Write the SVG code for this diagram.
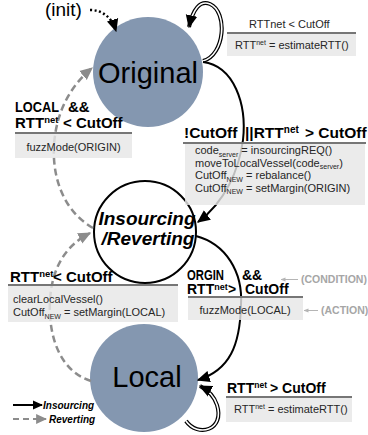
<svg xmlns="http://www.w3.org/2000/svg" width="368" height="435" viewBox="0 0 368 435">
<defs>
<style>
.st{fill:#8497B0}
.ins{fill:#fff;stroke:#000;stroke-width:2}
.big{font-family:"Liberation Sans",Arial,sans-serif;font-size:29px;fill:#000;text-anchor:middle}
.bi{font-family:"Liberation Sans",Arial,sans-serif;font-size:19px;font-weight:bold;font-style:italic;fill:#000;text-anchor:middle}
.lbl{font-family:"Liberation Sans",Arial,sans-serif;font-weight:bold;fill:#000}
.box{fill:#e7e7e7;fill-opacity:0.82}
.ul{stroke:#767676;stroke-width:2}
.bt{font-family:"Liberation Sans",Arial,sans-serif;font-size:11px;fill:#262626}
.note{font-family:"Liberation Sans",Arial,sans-serif;font-size:10.5px;font-weight:bold;fill:#a6a6a6}
.solid{fill:none;stroke:#000;stroke-width:2}
.dash{fill:none;stroke:#8c8c8c;stroke-width:2.5;stroke-dasharray:7 4}
.dot{fill:none;stroke:#000;stroke-width:2.5;stroke-dasharray:2 2.5}
.dblo{fill:none;stroke:#000;stroke-width:4}
.dbli{fill:none;stroke:#fff;stroke-width:1.6}
.mk{fill:none;stroke:none}
.thin{fill:none;stroke:#b5b5b5;stroke-width:1}
.leg{font-family:"Liberation Sans",Arial,sans-serif;font-size:10px;font-weight:bold;font-style:italic;fill:#000}
</style>
<marker id="ah" viewBox="0 0 10 10" refX="9" refY="5" markerWidth="13" markerHeight="13" markerUnits="userSpaceOnUse" orient="auto"><path d="M0,0.5 L10,5 L0,9.5 z" fill="#000"/></marker>
<marker id="ahs" viewBox="0 0 10 10" refX="9" refY="5" markerWidth="10" markerHeight="10" markerUnits="userSpaceOnUse" orient="auto"><path d="M0,0.5 L10,5 L0,9.5 z" fill="#000"/></marker>
<marker id="ahg" viewBox="0 0 10 10" refX="9" refY="5" markerWidth="13" markerHeight="13" markerUnits="userSpaceOnUse" orient="auto"><path d="M0,0.5 L10,5 L0,9.5 z" fill="#8c8c8c"/></marker>
<marker id="ahgs" viewBox="0 0 10 10" refX="9" refY="5" markerWidth="11" markerHeight="11" markerUnits="userSpaceOnUse" orient="auto"><path d="M0,0.5 L10,5 L0,9.5 z" fill="#8c8c8c"/></marker>
<marker id="ahl" viewBox="0 0 10 10" refX="9" refY="5" markerWidth="5" markerHeight="5" markerUnits="userSpaceOnUse" orient="auto"><path d="M0,1 L10,5 L0,9 z" fill="#b5b5b5"/></marker>
</defs>

<g id="node-original">
<circle class="st" cx="148" cy="72" r="55"/>
<text class="big" x="148" y="83">Original</text>
</g>
<g id="node-insourcing">
<circle class="ins" cx="145" cy="232" r="51"/>
<text class="bi" x="147" y="225">Insourcing</text>
<text class="bi" x="148" y="245">/Reverting</text>
</g>
<g id="node-local">
<circle class="st" cx="144" cy="378" r="54"/>
<text class="big" x="147" y="387">Local</text>
</g>
<g id="init">
<text x="45" y="16" style="font-family:'Liberation Sans',Arial,sans-serif;font-size:19px;fill:#000">(init)</text>
</g>

<g id="connectors">
<path class="dot" d="M90,10 C103,10 112,18 116,31" marker-end="url(#ah)"/>
<path class="dblo" d="M203,61 C225,55 228,12 210,4 C200,0 193,9 189,27"/>
<path class="dbli" d="M203,61 C225,55 228,12 210,4 C200,0 193,9 189,27"/>
<path class="mk" d="M203,61 C225,55 228,12 210,4 C200,0 193,9 189,27" marker-end="url(#ah)"/>
<path class="solid" d="M203,62 C234,66 247,104 243,140 C239,170 225,202 198,222" marker-end="url(#ah)"/>
<path class="solid" d="M196,236 C226,244 243,272 241,305 C240,345 230,370 198,380" marker-end="url(#ah)"/>
<path class="dblo" d="M186,421 C198,438 225,430 217,405 C214,396 208,390 200,386"/>
<path class="dbli" d="M186,421 C198,438 225,430 217,405 C214,396 208,390 200,386"/>
<path class="mk" d="M186,421 C198,438 225,430 217,405 C214,396 208,390 200,386" marker-end="url(#ah)"/>
<path class="dash" d="M93,228 C65,212 52,180 54,145 C56,115 68,88 92,68" marker-end="url(#ahg)"/>
<path class="dash" d="M91,381 C62,372 48,340 50,300 C52,268 65,246 90,233" marker-end="url(#ahg)"/>
</g>

<g id="guard-original-self">
<text class="bt" x="249" y="28">RTTnet  &lt; CutOff</text>
<line class="ul" x1="227" y1="33" x2="356" y2="33"/>
<rect class="box" x="227" y="34" width="129" height="22"/>
<text class="bt" x="235" y="49">RTT<tspan font-size="7" dy="-4">net</tspan><tspan dy="4"> = estimateRTT()</tspan></text>
</g>

<g id="guard-original-insourcing">
<text class="lbl" style="font-size:15.5px" y="138"><tspan x="184">!CutOff</tspan><tspan x="245">||RTT</tspan><tspan font-size="10" dy="-5">net</tspan><tspan x="305" dy="5">&gt; CutOff</tspan></text>
<line class="ul" x1="183" y1="143" x2="366" y2="143"/>
<rect class="box" x="185" y="144" width="180" height="61"/>
<text class="bt" x="195" y="154">code<tspan font-size="7" dy="2.5">server</tspan><tspan dy="-2.5"> = insourcingREQ()</tspan></text>
<text class="bt" x="195" y="166.5">moveToLocalVessel(code<tspan font-size="7" dy="2.5">server</tspan><tspan dy="-2.5">)</tspan></text>
<text class="bt" x="195" y="179">CutOff<tspan font-size="7" dy="2.5">NEW</tspan><tspan dy="-2.5"> = rebalance()</tspan></text>
<text class="bt" x="195" y="191.5">CutOff<tspan font-size="7" dy="2.5">NEW</tspan><tspan dy="-2.5"> = setMargin(ORIGIN)</tspan></text>
</g>

<g id="guard-reverting-original">
<text class="lbl" style="font-size:15px" y="112"><tspan x="15" textLength="44" lengthAdjust="spacingAndGlyphs">LOCAL</tspan><tspan x="68">&amp;&amp;</tspan></text>
<text class="lbl" style="font-size:15px" y="128"><tspan x="15">RTT</tspan><tspan font-size="9.5" dy="-5">net</tspan><tspan x="63" dy="5">&lt; CutOff</tspan></text>
<line class="ul" x1="15" y1="133" x2="132" y2="133"/>
<rect class="box" x="15" y="134" width="117" height="24"/>
<text class="bt" x="73.5" y="151" text-anchor="middle">fuzzMode(ORIGIN)</text>
</g>

<g id="guard-insourcing-local">
<text class="lbl" style="font-size:14px" y="280"><tspan x="187" textLength="37" lengthAdjust="spacingAndGlyphs">ORGIN</tspan><tspan x="242">&amp;&amp;</tspan></text>
<text class="lbl" style="font-size:14px" y="294"><tspan x="187">RTT</tspan><tspan font-size="9" dy="-4">net</tspan><tspan x="228" dy="4">&gt;</tspan><tspan x="245">CutOff</tspan></text>
<line class="ul" x1="188" y1="297" x2="303" y2="297"/>
<rect class="box" x="188" y="298" width="115" height="22"/>
<text class="bt" x="245" y="314" text-anchor="middle">fuzzMode(LOCAL)</text>
<line class="thin" x1="298" y1="279.5" x2="281" y2="279.5" marker-end="url(#ahl)"/>
<text class="note" x="301" y="283">(CONDITION)</text>
<line class="thin" x1="318" y1="310.5" x2="304" y2="310.5" marker-end="url(#ahl)"/>
<text class="note" x="321" y="314">(ACTION)</text>
</g>

<g id="guard-local-reverting">
<text class="lbl" style="font-size:15px" y="282"><tspan x="10">RTT</tspan><tspan font-size="9.5" dy="-5">net</tspan><tspan x="53" dy="5">&lt; CutOff</tspan></text>
<line class="ul" x1="8" y1="285" x2="178" y2="285"/>
<rect class="box" x="8" y="286" width="170" height="36"/>
<text class="bt" x="13" y="303">clearLocalVessel()</text>
<text class="bt" x="13" y="316">CutOff<tspan font-size="7" dy="2.5">NEW</tspan><tspan dy="-2.5"> = setMargin(LOCAL)</tspan></text>
</g>

<g id="guard-local-self">
<text class="lbl" style="font-size:14px" y="393"><tspan x="227">RTT</tspan><tspan font-size="8.5" dy="-5">net</tspan><tspan x="270" dy="5">&gt; CutOff</tspan></text>
<line class="ul" x1="226" y1="397" x2="352" y2="397"/>
<rect class="box" x="226" y="398" width="126" height="24"/>
<text class="bt" x="234" y="413">RTT<tspan font-size="7" dy="-4">net</tspan><tspan dy="4"> = estimateRTT()</tspan></text>
</g>

<g id="legend">
<path class="solid" d="M13,405 L42,405" marker-end="url(#ahs)"/>
<text class="leg" x="43" y="408.5">Insourcing</text>
<path class="dash" style="stroke-dasharray:6 4;stroke-width:2" d="M13,419 L46,419" marker-end="url(#ahgs)"/>
<text class="leg" x="49" y="422.5">Reverting</text>
</g>
</svg>
